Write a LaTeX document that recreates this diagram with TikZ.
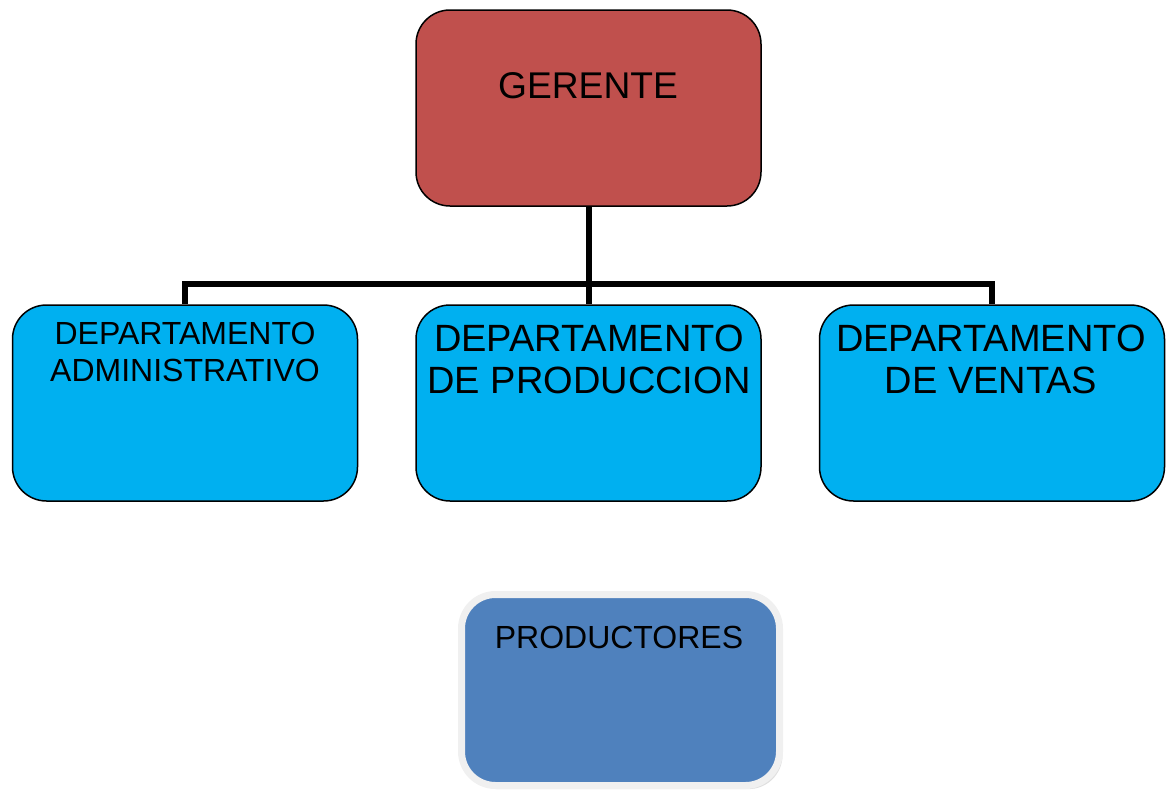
\documentclass[tikz,border=0pt]{standalone}
\usepackage{fontspec}
\setmainfont{Liberation Sans}
\usepackage{tikz}
\usetikzlibrary{shadows}
\definecolor{jefe}{HTML}{C0504D}
\definecolor{depto}{HTML}{00B0F0}
\definecolor{prod}{HTML}{4F81BD}
\definecolor{marco}{HTML}{F0F0F0}
\tikzstyle{caja}=[draw=black,line width=0.75pt,rounded corners=17pt,minimum width=172.5pt,minimum height=98pt,inner sep=0pt]
\tikzstyle{texto}=[align=center,inner sep=0pt]
\tikzstyle{edge} = [solid,black,draw,line width=3pt,-]

\begin{document}
\begin{tikzpicture}[x=0.5pt,y=-0.5pt]
	\useasboundingbox (0,0) rectangle (1173,793);
	\node[caja,fill=jefe] (ger) at (588.5,108) {};
	\node[caja,fill=depto] (adm) at (185,403) {};
	\node[caja,fill=depto] (pro) at (588.5,403) {};
	\node[caja,fill=depto] (ven) at (992,403) {};
	\node[rounded corners=17pt,draw=marco,line width=3.5pt,fill=prod,minimum width=159pt,minimum height=95.5pt,
		drop shadow={shadow xshift=1.5pt,shadow yshift=-1.8pt,fill=gray!50}] (pdt) at (620.5,690) {};
	\node[texto,font=\fontsize{18.6}{21}\selectfont] (tger) at (588,86) {GERENTE};
	\node[texto,font=\fontsize{16}{18.5}\selectfont] (tadm) at (185,352) {DEPARTAMENTO\\ADMINISTRATIVO};
	\node[texto,font=\fontsize{19}{21}\selectfont] (tpro) at (589,359) {DEPARTAMENTO\\DE PRODUCCION};
	\node[texto,font=\fontsize{19}{21}\selectfont] (tven) at (991,359) {DEPARTAMENTO\\DE VENTAS};
	\node[texto,font=\fontsize{16}{18.5}\selectfont] (tpdt) at (619,637) {PRODUCTORES};
	\coordinate (bus) at (588.5,284);
	\path[edge] (ger.south) -- (pro.north);
	\path[edge] (bus) -| (adm.north);
	\path[edge] (bus) -| (ven.north);
\end{tikzpicture}
\end{document}
